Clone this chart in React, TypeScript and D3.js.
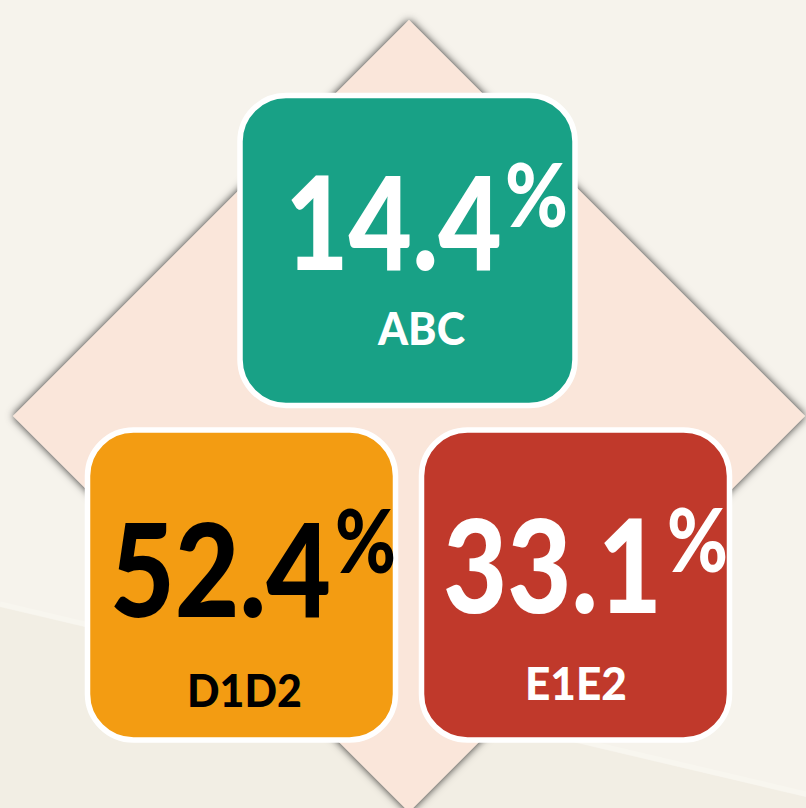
import React, { useEffect, useRef } from "react";
import * as d3 from "d3";

// ---- data ----
const categories = ["ABC", "D1D2", "E1E2"];
const values = [14.4, 52.4, 33.1];
const fillColors = ["#18a186", "#f39c12", "#c0392b"];
const textColors = ["#ffffff", "#000000", "#ffffff"];

// ---- layout (positions only) ----
const W = 806;
const H = 808;
const boxes = [
  { x: 240, y: 95.5, w: 335, h: 310, numX: 285, numY: 270, numW: 217, pctX: 505, pctY: 227, pctW: 63, lblX: 377, lblY: 345, lblW: 88 },
  { x: 87.5, y: 430, w: 308, h: 310, numX: 110, numY: 617, numW: 221, pctX: 335, pctY: 573, pctW: 61, lblX: 187, lblY: 707, lblW: 115 },
  { x: 421.5, y: 430, w: 308, h: 310, numX: 443, numY: 613, numW: 219, pctX: 667, pctY: 572, pctW: 61, lblX: 525, lblY: 700, lblW: 102 },
];

const fmt = d3.format(".1f");
const FONT = "Lato, 'Open Sans', sans-serif";

export default function App() {
  const ref = useRef<SVGSVGElement | null>(null);

  useEffect(() => {
    const draw = () => {
      const svg = d3.select(ref.current);
      svg.selectAll("*").remove();

      const defs = svg.append("defs");
      defs
        .append("filter")
        .attr("id", "dshadow")
        .attr("x", "-10%")
        .attr("y", "-10%")
        .attr("width", "120%")
        .attr("height", "120%")
        .append("feDropShadow")
        .attr("dx", 0)
        .attr("dy", 0)
        .attr("stdDeviation", 4)
        .attr("flood-color", "#000")
        .attr("flood-opacity", 0.85);

      svg.append("rect").attr("width", W).attr("height", H).attr("fill", "#f6f3ec");

      const yBand = d3.scaleLinear().domain([0, W]).range([607, 797]);
      svg
        .append("path")
        .attr("d", `M0,${yBand(0)} L${W},${yBand(W)} L${W},${H} L0,${H} Z`)
        .attr("fill", "#f2eee4");
      svg
        .append("path")
        .attr("d", `M0,${yBand(0) - 3} L${W},${yBand(W) - 3}`)
        .attr("stroke", "#f8f6ef")
        .attr("stroke-width", 5)
        .attr("fill", "none");

      const cx = 409;
      const cy = 416;
      const r = 396;
      const diamond =
        d3.line()([
          [cx, cy - r],
          [cx + r, cy],
          [cx, cy + r],
          [cx - r, cy],
        ]) + "Z";
      svg.append("path").attr("d", diamond).attr("fill", "#fae6da").attr("filter", "url(#dshadow)");

      const fitText = (
        g: any,
        str: string,
        x: number,
        y: number,
        size: number,
        targetW: number,
        color: string
      ) => {
        const t = g
          .append("text")
          .attr("x", 0)
          .attr("y", 0)
          .attr("font-family", FONT)
          .attr("font-weight", 900)
          .attr("font-size", size)
          .attr("fill", color)
          .text(str);
        const node = t.node() as SVGTextElement;
        const bb = node.getBBox();
        const sx = bb.width > 0 ? targetW / bb.width : 1;
        t.attr("transform", `translate(${x - bb.x * sx},${y}) scale(${sx},1)`);
      };

      categories.forEach((cat, i) => {
        const b = boxes[i];
        const g = svg.append("g");
        g.append("rect")
          .attr("x", b.x)
          .attr("y", b.y)
          .attr("width", b.w)
          .attr("height", b.h)
          .attr("rx", 46)
          .attr("ry", 46)
          .attr("fill", fillColors[i])
          .attr("stroke", "#ffffff")
          .attr("stroke-width", 5.5);
        fitText(g, fmt(values[i]), b.numX, b.numY, 130, b.numW, textColors[i]);
        fitText(g, "%", b.pctX, b.pctY, 88, b.pctW, textColors[i]);
        fitText(g, cat, b.lblX, b.lblY, 46, b.lblW, textColors[i]);
      });
    };
    draw();
    if ((document as any).fonts && (document as any).fonts.ready) {
      (document as any).fonts.ready.then(draw);
    }
  }, []);

  return (
    <svg
      ref={ref}
      width={W}
      height={H}
      viewBox={`0 0 ${W} ${H}`}
      style={{ position: "absolute", left: 0, top: 0, display: "block" }}
    />
  );
}
